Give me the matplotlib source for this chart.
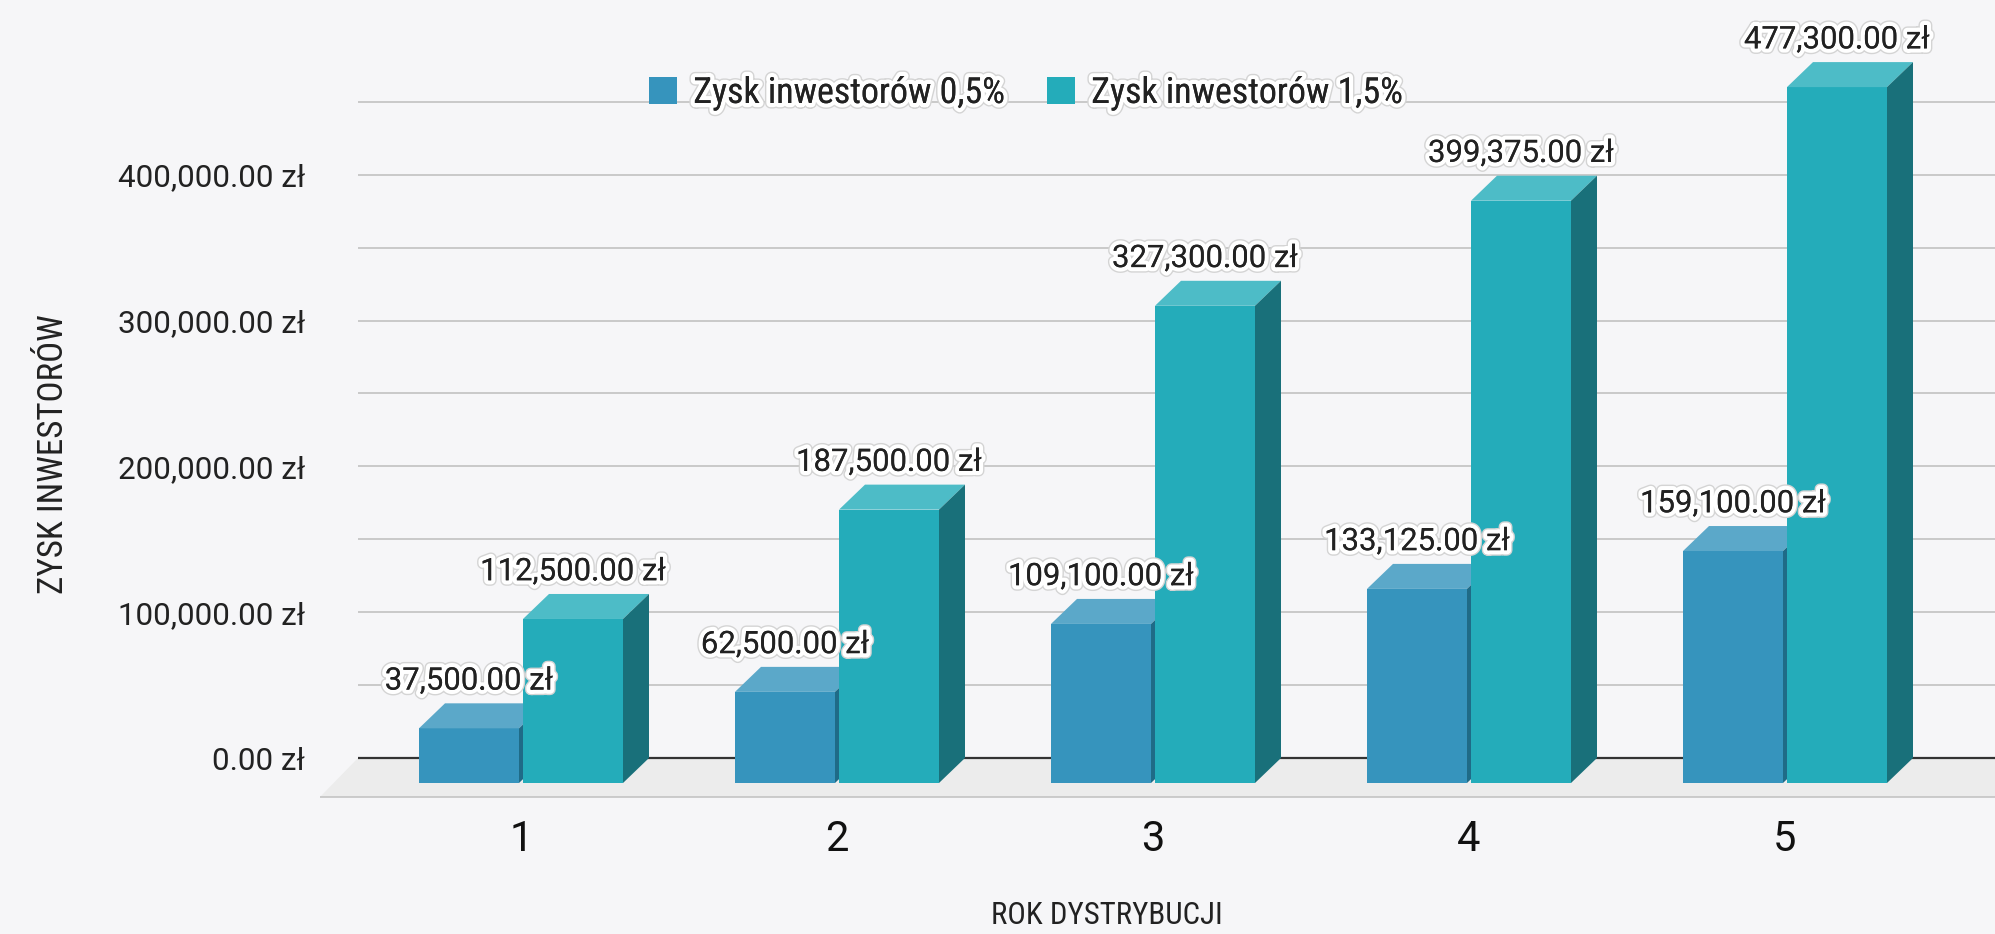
"""Zysk inwestorów - pseudo 3D bar chart"""
import matplotlib
matplotlib.use("Agg")
import matplotlib.pyplot as plt
from matplotlib import font_manager
from matplotlib.patches import Polygon, Patch
import matplotlib.patheffects as pe

YEARS = [1, 2, 3, 4, 5]
PROFIT_05 = [37500, 62500, 109100, 133125, 159100]
PROFIT_15 = [112500, 187500, 327300, 399375, 477300]
SERIES_NAMES = ["Zysk inwestorów 0,5%", "Zysk inwestorów 1,5%"]
Y_TICKS = [0, 100000, 200000, 300000, 400000]
Y_MINOR = [50000, 150000, 250000, 350000, 450000]

# colours: front, top, side
BLUE = ("#3694bd", "#5ba8c9", "#1f6b87")
TEAL = ("#24acba", "#4dbcc7", "#19707a")
BG = "#f6f6f8"

W_PX, H_PX = 1995, 934
# layout in pixels (from top-left)
LEFT_PX = 358          # back wall left edge
ZERO_PX = 758          # y of value 0 on back wall
BOTTOM_PX = 797        # front edge of the floor
PX_PER_UNIT_Y = 145.8 / 100000
CAT1_PX = 547          # back centre of first category
PX_PER_CAT = 316
DEPTH_X_PX, DEPTH_Y_PX = 26, 25
BAR_W_PX, GAP_PX = 100, 4

available = {f.name for f in font_manager.fontManager.ttflist}
NARROW = "Roboto"
for name in ("Roboto Condensed", "Liberation Sans Narrow"):
    if name in available:
        NARROW = name
        break
plt.rcParams["font.family"] = ["Roboto", "DejaVu Sans"]

fig = plt.figure(figsize=(W_PX / 100, H_PX / 100), dpi=100, facecolor=BG)
ax = fig.add_axes([LEFT_PX / W_PX, (H_PX - BOTTOM_PX) / H_PX,
                   (W_PX - LEFT_PX) / W_PX, BOTTOM_PX / H_PX])
ax.set_facecolor(BG)

ymin = -(BOTTOM_PX - ZERO_PX) / PX_PER_UNIT_Y
ymax = ZERO_PX / PX_PER_UNIT_Y
xmin = 1 - (CAT1_PX - LEFT_PX) / PX_PER_CAT
xmax = 1 + (W_PX - CAT1_PX) / PX_PER_CAT
ax.set_xlim(xmin, xmax)
ax.set_ylim(ymin, ymax)
for s in ax.spines.values():
    s.set_visible(False)

dx = DEPTH_X_PX / PX_PER_CAT
dy = DEPTH_Y_PX / PX_PER_UNIT_Y
w = BAR_W_PX / PX_PER_CAT
g = GAP_PX / PX_PER_CAT

# floor
fdx = 38 / PX_PER_CAT
fdy = (BOTTOM_PX - ZERO_PX) / PX_PER_UNIT_Y
floor = Polygon([(xmin, 0), (xmax + 0.2, 0), (xmax + 0.2 - fdx, -fdy),
                 (xmin - fdx, -fdy)], closed=True, facecolor="#ececec",
                edgecolor="none", clip_on=False, zorder=1)
ax.add_patch(floor)
ax.plot([xmin - fdx, xmax], [-fdy, -fdy], color="#c4c4c4", lw=1.2,
        clip_on=False, zorder=1.5, solid_capstyle="butt")

# grid on back wall
ax.hlines(Y_TICKS[1:] + Y_MINOR, xmin, xmax, color="#c9c9c9", lw=1.4, zorder=0.5)
ax.hlines([0], xmin, xmax, color="#333333", lw=1.6, zorder=1.2)


def draw_bar(x0, v, cols):
    front, top, side = cols
    ax.add_patch(Polygon([(x0 - dx, -dy), (x0 + w - dx, -dy),
                          (x0 + w - dx, v - dy), (x0 - dx, v - dy)],
                         facecolor=front, edgecolor="none", zorder=3))
    ax.add_patch(Polygon([(x0 - dx, v - dy), (x0 + w - dx, v - dy),
                          (x0 + w, v), (x0, v)],
                         facecolor=top, edgecolor="none", zorder=3))
    ax.add_patch(Polygon([(x0 + w - dx, -dy), (x0 + w, 0), (x0 + w, v),
                          (x0 + w - dx, v - dy)],
                         facecolor=side, edgecolor="none", zorder=3))


halo = [pe.withStroke(linewidth=8, foreground="#d4d4d4"),
        pe.withStroke(linewidth=6, foreground="white"), pe.Normal()]

for x, v1, v2 in zip(YEARS, PROFIT_05, PROFIT_15):
    for x0, v, cols in ((x - g / 2 - w, v1, BLUE), (x + g / 2, v2, TEAL)):
        draw_bar(x0, v, cols)
        t = ax.annotate(f"{v:,.2f} zł", (x0 - dx + w / 2, v),
                        textcoords="offset points", xytext=(0, 16),
                        ha="center", va="center", fontsize=22.4,
                        color="#222222", zorder=5)
        t.set_path_effects(halo)

# axes ticks
ax.set_yticks(Y_TICKS)
ax.set_yticklabels([f"{v:,.2f} zł" for v in Y_TICKS], fontsize=22.6, color="#222222")
ax.set_xticks([x - dx for x in YEARS])
ax.set_xticklabels([str(x) for x in YEARS], fontsize=30, color="#111111")
ax.tick_params(axis="y", length=0, pad=38)
ax.tick_params(axis="x", length=0, pad=16)

fig.text(1107 / W_PX, 1 - 916 / H_PX, "ROK DYSTRYBUCJI", family=NARROW,
         fontsize=22.2, ha="center", va="center", color="#222222")
fig.text(54 / W_PX, 1 - 454 / H_PX, "ZYSK INWESTORÓW", family=NARROW,
         fontsize=25.2, ha="center", va="center", rotation=90, color="#222222")

handles = [Patch(facecolor=BLUE[0]), Patch(facecolor=TEAL[0])]
leg = fig.legend(handles, SERIES_NAMES, loc="center", ncol=2,
                 bbox_to_anchor=(1026 / W_PX, 1 - 93 / H_PX), frameon=False,
                 prop={"family": NARROW, "size": 25.9}, handlelength=0.78,
                 handleheight=0.78, handletextpad=0.45, columnspacing=1.17)
for t in leg.get_texts():
    t.set_color("#222222")
    t.set_path_effects(halo)

fig.savefig("out.png", dpi=100, facecolor=BG)
